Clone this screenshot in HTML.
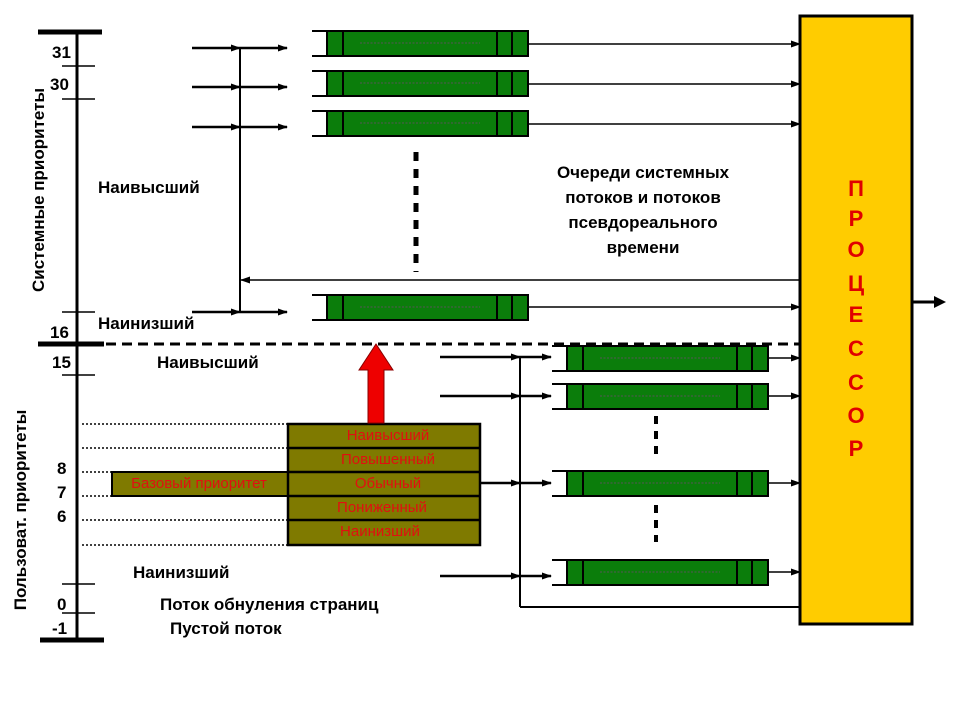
<!DOCTYPE html>
<html><head><meta charset="utf-8"><style>
body{margin:0;background:#fff}
svg{display:block}
text{font-family:"Liberation Sans",sans-serif;font-weight:bold}
</style></head><body>
<svg width="960" height="720" viewBox="0 0 960 720">
<defs>
<marker id="a" markerWidth="10" markerHeight="10" refX="9" refY="5" orient="auto" markerUnits="userSpaceOnUse"><path d="M0,1.5 L10,5 L0,8.5z" fill="#000"/></marker>
<g id="q">
<line x1="312" y1="0" x2="327" y2="0" stroke="#000" stroke-width="2"/>
<line x1="312" y1="25" x2="327" y2="25" stroke="#000" stroke-width="2"/>
<rect x="327" y="0" width="201" height="25" fill="#0b7d0b" stroke="#000" stroke-width="2"/>
<line x1="343" y1="0" x2="343" y2="25" stroke="#000" stroke-width="2"/>
<line x1="497" y1="0" x2="497" y2="25" stroke="#000" stroke-width="2"/>
<line x1="512" y1="0" x2="512" y2="25" stroke="#000" stroke-width="2"/>
<line x1="360" y1="12" x2="480" y2="12" stroke="#555" stroke-width="1" stroke-dasharray="2,1.5"/>
</g>
</defs>
<g stroke="#000">
<line x1="77" y1="32" x2="77" y2="640" stroke-width="3"/>
<line x1="38" y1="32" x2="102" y2="32" stroke-width="5"/>
<line x1="38" y1="344" x2="104" y2="344" stroke-width="5"/>
<line x1="40" y1="640" x2="104" y2="640" stroke-width="5"/>
<g stroke-width="1.5">
<line x1="62" y1="66" x2="95" y2="66"/><line x1="62" y1="99" x2="95" y2="99"/><line x1="62" y1="312" x2="95" y2="312"/>
<line x1="62" y1="375" x2="95" y2="375"/><line x1="62" y1="584" x2="95" y2="584"/><line x1="62" y1="613" x2="95" y2="613"/>
</g>
<line x1="106" y1="344" x2="800" y2="344" stroke-width="3" stroke-dasharray="10,6"/>
</g>
<g font-size="17" fill="#000">
<text x="52" y="58">31</text><text x="50" y="90">30</text><text x="50" y="338">16</text>
<text x="52" y="368">15</text><text x="57" y="474">8</text><text x="57" y="498">7</text><text x="57" y="522">6</text>
<text x="57" y="610">0</text><text x="52" y="634">-1</text>
<text x="98" y="193">Наивысший</text><text x="98" y="329">Наинизший</text>
<text x="157" y="368">Наивысший</text><text x="133" y="578">Наинизший</text>
<text x="160" y="610">Поток обнуления страниц</text><text x="170" y="634">Пустой поток</text>
<text transform="translate(44,190) rotate(-90)" text-anchor="middle">Системные приоритеты</text>
<text transform="translate(26,510) rotate(-90)" text-anchor="middle">Пользоват. приоритеты</text>
<g text-anchor="middle"><text x="643" y="178">Очереди системных</text><text x="643" y="203">потоков и потоков</text><text x="643" y="228">псевдореального</text><text x="643" y="253">времени</text></g>
</g>
<g stroke="#000" stroke-width="2.5" fill="none">
<line x1="240" y1="48" x2="240" y2="312" stroke-width="2"/>
<line x1="192" y1="48" x2="240" y2="48" marker-end="url(#a)"/><line x1="240" y1="48" x2="287" y2="48" marker-end="url(#a)"/>
<line x1="192" y1="87" x2="240" y2="87" marker-end="url(#a)"/><line x1="240" y1="87" x2="287" y2="87" marker-end="url(#a)"/>
<line x1="192" y1="127" x2="240" y2="127" marker-end="url(#a)"/><line x1="240" y1="127" x2="287" y2="127" marker-end="url(#a)"/>
<line x1="192" y1="312" x2="240" y2="312" marker-end="url(#a)"/><line x1="240" y1="312" x2="287" y2="312" marker-end="url(#a)"/>
<g stroke-width="1.5">
<line x1="800" y1="280" x2="241" y2="280" marker-end="url(#a)"/>
<line x1="528" y1="44" x2="800" y2="44" marker-end="url(#a)"/>
<line x1="528" y1="84" x2="800" y2="84" marker-end="url(#a)"/>
<line x1="528" y1="124" x2="800" y2="124" marker-end="url(#a)"/>
<line x1="528" y1="307" x2="800" y2="307" marker-end="url(#a)"/>
</g>
<line x1="416" y1="152" x2="416" y2="272" stroke-width="5" stroke-dasharray="9,8"/>
<line x1="656" y1="416" x2="656" y2="456" stroke-width="4" stroke-dasharray="8,7"/>
<line x1="656" y1="505" x2="656" y2="542" stroke-width="4" stroke-dasharray="8,7"/>
</g>
<use href="#q" transform="translate(0,31)"/>
<use href="#q" transform="translate(0,71)"/>
<use href="#q" transform="translate(0,111)"/>
<use href="#q" transform="translate(0,295)"/>
<use href="#q" transform="translate(240,346)"/>
<use href="#q" transform="translate(240,384)"/>
<use href="#q" transform="translate(240,471)"/>
<use href="#q" transform="translate(240,560)"/>
<g stroke="#000" stroke-width="2.5" fill="none">
<line x1="520" y1="357" x2="520" y2="607" stroke-width="2"/>
<line x1="520" y1="607" x2="800" y2="607" stroke-width="2"/>
<line x1="440" y1="357" x2="520" y2="357" marker-end="url(#a)"/><line x1="520" y1="357" x2="551" y2="357" marker-end="url(#a)"/>
<line x1="440" y1="396" x2="520" y2="396" marker-end="url(#a)"/><line x1="520" y1="396" x2="551" y2="396" marker-end="url(#a)"/>
<line x1="480" y1="483" x2="520" y2="483" marker-end="url(#a)"/><line x1="520" y1="483" x2="551" y2="483" marker-end="url(#a)"/>
<line x1="440" y1="576" x2="520" y2="576" marker-end="url(#a)"/><line x1="520" y1="576" x2="551" y2="576" marker-end="url(#a)"/>
<g stroke-width="1.5">
<line x1="768" y1="358" x2="800" y2="358" marker-end="url(#a)"/>
<line x1="768" y1="396" x2="800" y2="396" marker-end="url(#a)"/>
<line x1="768" y1="483" x2="800" y2="483" marker-end="url(#a)"/>
<line x1="768" y1="572" x2="800" y2="572" marker-end="url(#a)"/>
</g>
<g stroke-width="1.5" stroke-dasharray="2,2">
<line x1="82" y1="424" x2="288" y2="424"/><line x1="82" y1="448" x2="288" y2="448"/><line x1="82" y1="472" x2="112" y2="472"/>
<line x1="82" y1="496" x2="112" y2="496"/><line x1="82" y1="520" x2="288" y2="520"/><line x1="82" y1="545" x2="288" y2="545"/>
</g>
</g>
<rect x="112" y="472" width="176" height="24" fill="#7f7a00" stroke="#000" stroke-width="2"/>
<rect x="288" y="424" width="192" height="121" fill="#7f7a00" stroke="#000" stroke-width="2.5"/>
<g stroke="#000" stroke-width="2.5"><line x1="288" y1="448" x2="480" y2="448"/><line x1="288" y1="472" x2="480" y2="472"/><line x1="288" y1="496" x2="480" y2="496"/><line x1="288" y1="520" x2="480" y2="520"/></g>
<g fill="#e01010" font-size="15" text-anchor="middle">
<text x="388" y="440" style="font-weight:normal">Наивысший</text><text x="388" y="464" style="font-weight:normal">Повышенный</text><text x="388" y="488" style="font-weight:normal">Обычный</text><text x="382" y="512" style="font-weight:normal">Пониженный</text><text x="380" y="536" style="font-weight:normal">Наинизший</text>
<text x="199" y="488" style="font-weight:normal">Базовый приоритет</text>
</g>
<path d="M368,423 L368,370 L359,370 L376,344 L393,370 L384,370 L384,423z" fill="#ee0000" stroke="#800" stroke-width="1"/>
<rect x="800" y="16" width="112" height="608" fill="#ffcc00" stroke="#000" stroke-width="3"/>
<g fill="#e00000" font-size="22" text-anchor="middle">
<text x="856" y="196">П</text><text x="856" y="226">Р</text><text x="856" y="257">О</text><text x="856" y="291">Ц</text><text x="856" y="322">Е</text><text x="856" y="356">С</text><text x="856" y="390">С</text><text x="856" y="423">О</text><text x="856" y="456">Р</text>
</g>
<line x1="912" y1="302" x2="936" y2="302" stroke="#000" stroke-width="3"/>
<path d="M934,296 L946,302 L934,308z" fill="#000"/>
</svg>
</body></html>
